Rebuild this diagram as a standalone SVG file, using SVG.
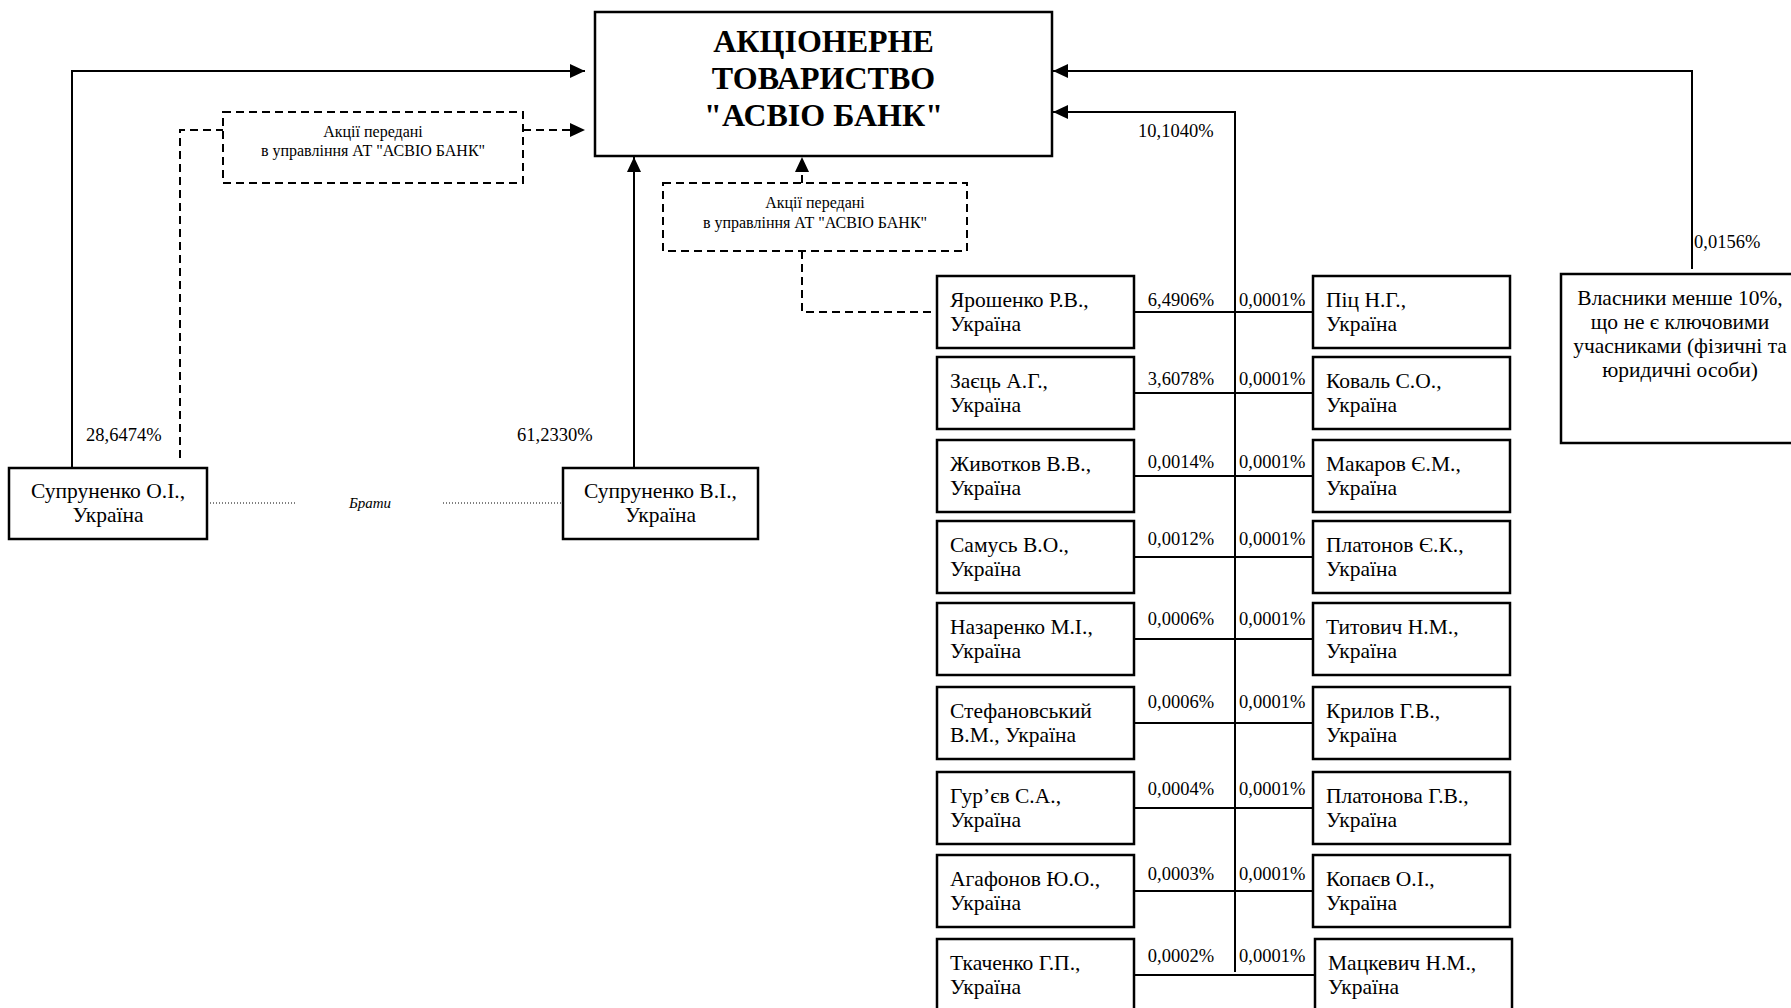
<svg xmlns="http://www.w3.org/2000/svg" width="1791" height="1008" viewBox="0 0 1791 1008">
<style>
.box{fill:#fff;stroke:#000;stroke-width:2.5}
.dbox{fill:#fff;stroke:#000;stroke-width:2;stroke-dasharray:8 5}
.ln{fill:none;stroke:#000;stroke-width:2}
.dl{fill:none;stroke:#000;stroke-width:2;stroke-dasharray:8 5}
.dot{fill:none;stroke:#000;stroke-width:1;stroke-dasharray:1 2}
text{font-family:"Liberation Serif","Times New Roman",serif;fill:#000}
.t{font-size:21.5px}
.p{font-size:18.5px}
.s{font-size:16px}
.title{font-size:32px;font-weight:bold}
.it{font-size:15px;font-style:italic}
.c{text-anchor:middle}
</style>
<defs>
<marker id="arr" viewBox="0 0 15 14" refX="15" refY="7" markerWidth="15" markerHeight="14" markerUnits="userSpaceOnUse" orient="auto">
<path d="M0,0 L15,7 L0,14 z" fill="#000"/>
</marker>
</defs>
<rect width="1791" height="1008" fill="#fff"/>

<g id="connectors">
<path class="ln" d="M72,468 V71 H585" marker-end="url(#arr)"/>
<path class="dl" d="M180,458 V130 H223"/>
<path class="dl" d="M523,130 H585" marker-end="url(#arr)"/>
<path class="ln" d="M634,468 V157" marker-end="url(#arr)"/>
<path class="dl" d="M802,183 V157" marker-end="url(#arr)"/>
<path class="dl" d="M802,251 V312 H937"/>
<path class="ln" d="M1692,269 V71 H1053" marker-end="url(#arr)"/>
<path class="ln" d="M1235,972 V112 H1053" marker-end="url(#arr)"/>
<path class="ln" d="M1134,312 H1313"/>
<path class="ln" d="M1134,393 H1313"/>
<path class="ln" d="M1134,476 H1313"/>
<path class="ln" d="M1134,557 H1313"/>
<path class="ln" d="M1134,639 H1313"/>
<path class="ln" d="M1134,723 H1313"/>
<path class="ln" d="M1134,808 H1313"/>
<path class="ln" d="M1134,891 H1313"/>
<path class="ln" d="M1134,975 H1315"/>
<path class="dot" d="M207,503 H296"/>
<path class="dot" d="M443,503 H563"/>
<text class="it c" x="370" y="508">Брати</text>
<text class="p" x="86" y="441">28,6474%</text>
<text class="p" x="517" y="441">61,2330%</text>
<text class="p" x="1138" y="137">10,1040%</text>
<text class="p" x="1694" y="248">0,0156%</text>
<g class="p">
<text class="p c" x="1181" y="306">6,4906%</text>
<text class="p c" x="1181" y="385">3,6078%</text>
<text class="p c" x="1181" y="468">0,0014%</text>
<text class="p c" x="1181" y="545">0,0012%</text>
<text class="p c" x="1181" y="625">0,0006%</text>
<text class="p c" x="1181" y="708">0,0006%</text>
<text class="p c" x="1181" y="795">0,0004%</text>
<text class="p c" x="1181" y="880">0,0003%</text>
<text class="p c" x="1181" y="962">0,0002%</text>
<text class="p" x="1239" y="306">0,0001%</text>
<text class="p" x="1239" y="385">0,0001%</text>
<text class="p" x="1239" y="468">0,0001%</text>
<text class="p" x="1239" y="545">0,0001%</text>
<text class="p" x="1239" y="625">0,0001%</text>
<text class="p" x="1239" y="708">0,0001%</text>
<text class="p" x="1239" y="795">0,0001%</text>
<text class="p" x="1239" y="880">0,0001%</text>
<text class="p" x="1239" y="962">0,0001%</text>
</g>
</g>

<g id="bank">
<rect class="box" x="595" y="12" width="457" height="144"/>
<text class="title c" x="823.5" y="52">АКЦІОНЕРНЕ</text>
<text class="title c" x="823.5" y="89">ТОВАРИСТВО</text>
<text class="title c" x="823.5" y="126">"АСВІО БАНК"</text>
</g>

<g id="trust1">
<rect class="dbox" x="223" y="112" width="300" height="71"/>
<text class="s c" x="373" y="137">Акції передані</text>
<text class="s c" x="373" y="156">в управління АТ "АСВІО БАНК"</text>
</g>

<g id="trust2">
<rect class="dbox" x="663" y="183" width="304" height="68"/>
<text class="s c" x="815" y="208">Акції передані</text>
<text class="s c" x="815" y="228">в управління АТ "АСВІО БАНК"</text>
</g>

<g id="suprunenko-oi">
<rect class="box" x="9" y="468" width="198" height="71"/>
<text class="t c" x="108" y="498">Супруненко О.І.,</text>
<text class="t c" x="108" y="522">Україна</text>
</g>

<g id="suprunenko-vi">
<rect class="box" x="563" y="468" width="195" height="71"/>
<text class="t c" x="660.5" y="498">Супруненко В.І.,</text>
<text class="t c" x="660.5" y="522">Україна</text>
</g>

<g id="others">
<rect class="box" x="1561" y="274" width="240" height="169"/>
<text class="t c" x="1680" y="305">Власники менше 10%,</text>
<text class="t c" x="1680" y="329">що не є ключовими</text>
<text class="t c" x="1680" y="353">учасниками (фізичні та</text>
<text class="t c" x="1680" y="377">юридичні особи)</text>
</g>

<g id="yaroshenko"><rect class="box" x="937" y="276" width="197" height="72"/><text class="t" x="950" y="307">Ярошенко Р.В.,</text><text class="t" x="950" y="331">Україна</text></g>
<g id="zaets"><rect class="box" x="937" y="357" width="197" height="72"/><text class="t" x="950" y="388">Заєць А.Г.,</text><text class="t" x="950" y="412">Україна</text></g>
<g id="zhyvotkov"><rect class="box" x="937" y="440" width="197" height="72"/><text class="t" x="950" y="471">Животков В.В.,</text><text class="t" x="950" y="495">Україна</text></g>
<g id="samus"><rect class="box" x="937" y="521" width="197" height="72"/><text class="t" x="950" y="552">Самусь В.О.,</text><text class="t" x="950" y="576">Україна</text></g>
<g id="nazarenko"><rect class="box" x="937" y="603" width="197" height="72"/><text class="t" x="950" y="634">Назаренко М.І.,</text><text class="t" x="950" y="658">Україна</text></g>
<g id="stefanovskyi"><rect class="box" x="937" y="687" width="197" height="72"/><text class="t" x="950" y="718">Стефановський</text><text class="t" x="950" y="742">В.М., Україна</text></g>
<g id="guriev"><rect class="box" x="937" y="772" width="197" height="72"/><text class="t" x="950" y="803">Гур’єв С.А.,</text><text class="t" x="950" y="827">Україна</text></g>
<g id="agafonov"><rect class="box" x="937" y="855" width="197" height="72"/><text class="t" x="950" y="886">Агафонов Ю.О.,</text><text class="t" x="950" y="910">Україна</text></g>
<g id="tkachenko"><rect class="box" x="937" y="939" width="197" height="74"/><text class="t" x="950" y="970">Ткаченко Г.П.,</text><text class="t" x="950" y="994">Україна</text></g>

<g id="pits"><rect class="box" x="1313" y="276" width="197" height="72"/><text class="t" x="1326" y="307">Піц Н.Г.,</text><text class="t" x="1326" y="331">Україна</text></g>
<g id="koval"><rect class="box" x="1313" y="357" width="197" height="72"/><text class="t" x="1326" y="388">Коваль С.О.,</text><text class="t" x="1326" y="412">Україна</text></g>
<g id="makarov"><rect class="box" x="1313" y="440" width="197" height="72"/><text class="t" x="1326" y="471">Макаров Є.М.,</text><text class="t" x="1326" y="495">Україна</text></g>
<g id="platonov"><rect class="box" x="1313" y="521" width="197" height="72"/><text class="t" x="1326" y="552">Платонов Є.К.,</text><text class="t" x="1326" y="576">Україна</text></g>
<g id="tytovych"><rect class="box" x="1313" y="603" width="197" height="72"/><text class="t" x="1326" y="634">Титович Н.М.,</text><text class="t" x="1326" y="658">Україна</text></g>
<g id="krylov"><rect class="box" x="1313" y="687" width="197" height="72"/><text class="t" x="1326" y="718">Крилов Г.В.,</text><text class="t" x="1326" y="742">Україна</text></g>
<g id="platonova"><rect class="box" x="1313" y="772" width="197" height="72"/><text class="t" x="1326" y="803">Платонова Г.В.,</text><text class="t" x="1326" y="827">Україна</text></g>
<g id="kopaiev"><rect class="box" x="1313" y="855" width="197" height="72"/><text class="t" x="1326" y="886">Копаєв О.І.,</text><text class="t" x="1326" y="910">Україна</text></g>
<g id="matskevych"><rect class="box" x="1315" y="939" width="197" height="74"/><text class="t" x="1328" y="970">Мацкевич Н.М.,</text><text class="t" x="1328" y="994">Україна</text></g>
</svg>
